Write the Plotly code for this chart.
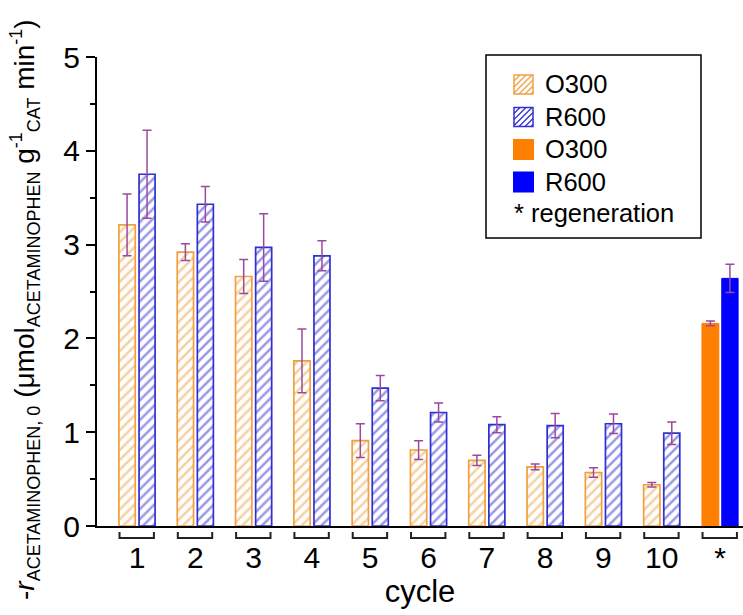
import plotly.graph_objects as go

# ---------------- data ----------------
cycles = [1, 2, 3, 4, 5, 6, 7, 8, 9, 10]
tick_positions = [1, 2, 3, 4, 5, 6, 7, 8, 9, 10, 11]
tick_labels = ["1", "2", "3", "4", "5", "6", "7", "8", "9", "10", "*"]

o300_cycle = [3.21, 2.92, 2.66, 1.76, 0.91, 0.81, 0.70, 0.63, 0.57, 0.44]
o300_cycle_err = [0.33, 0.09, 0.18, 0.34, 0.18, 0.10, 0.055, 0.03, 0.05, 0.025]
r600_cycle = [3.75, 3.43, 2.97, 2.88, 1.47, 1.21, 1.08, 1.07, 1.09, 0.99]
r600_cycle_err = [0.47, 0.19, 0.36, 0.16, 0.135, 0.10, 0.085, 0.13, 0.105, 0.12]

regen_x = [11]
o300_regen = [2.16]
o300_regen_err = [0.025]
r600_regen = [2.64]
r600_regen_err = [0.15]

legend_labels = ["O300", "R600", "O300", "R600", "* regeneration"]

# ---------------- styling ----------------
W, H = 743, 615
ML, MR, MT, MB = 97, 0, 57, 89
PW, PH = W - ML - MR, H - MT - MB
FONT = "Liberation Sans, Arial, sans-serif"

ORANGE_H = "#f0a040"
BLUE_H = "#3030d0"
ORANGE_S = "#ff8000"
BLUE_S = "#0000ff"
ERR_C = "#9a4a9c"


def px(x):
    return (x - ML) / PW


def py(y):
    return (H - MB - y) / PH


err_style = dict(type="data", color=ERR_C, thickness=1.5, width=4.5, visible=True)

fig = go.Figure()
fig.add_trace(go.Bar(
    x=cycles, y=o300_cycle, name="O300", width=0.28, offset=-0.31,
    marker=dict(color="white", line=dict(color=ORANGE_H, width=1.7),
                pattern=dict(shape="/", fgcolor=ORANGE_H, bgcolor="white", size=7, solidity=0.36)),
    error_y=dict(array=o300_cycle_err, **err_style),
))
fig.add_trace(go.Bar(
    x=cycles, y=r600_cycle, name="R600", width=0.275, offset=0.035,
    marker=dict(color="white", line=dict(color=BLUE_H, width=1.7),
                pattern=dict(shape="/", fgcolor=BLUE_H, bgcolor="white", size=7, solidity=0.36)),
    error_y=dict(array=r600_cycle_err, **err_style),
))
fig.add_trace(go.Bar(
    x=regen_x, y=o300_regen, name="O300 (regeneration)", width=0.29, offset=-0.31,
    marker=dict(color=ORANGE_S, line=dict(color=ORANGE_S, width=1)),
    error_y=dict(array=o300_regen_err, **err_style),
))
fig.add_trace(go.Bar(
    x=regen_x, y=r600_regen, name="R600 (regeneration)", width=0.28, offset=0.03,
    marker=dict(color=BLUE_S, line=dict(color=BLUE_S, width=1)),
    error_y=dict(array=r600_regen_err, **err_style),
))

shapes = []
# bracket marks under each group
for k in tick_positions:
    shapes.append(dict(
        type="path", xref="x", yref="paper",
        path=f"M {k-0.30},{py(532)} L {k-0.30},{py(538)} L {k+0.29},{py(538)} L {k+0.29},{py(532)}",
        line=dict(color="#222222", width=2),
    ))

# custom legend box
shapes.append(dict(type="rect", xref="paper", yref="paper",
                   x0=px(486), x1=px(701), y0=py(55), y1=py(238),
                   line=dict(color="black", width=1.5), fillcolor="white", layer="below"))


def hatched_swatch(x0, y0, x1, y1, color, step=6):
    out = [dict(type="rect", xref="paper", yref="paper",
                x0=px(x0), x1=px(x1), y0=py(y0), y1=py(y1),
                line=dict(color=color, width=1.5), fillcolor="white")]
    c = x0 + y0 + step
    while c < x1 + y1 - 1:
        xa = max(x0, c - y1)
        xb = min(x1, c - y0)
        out.append(dict(type="line", xref="paper", yref="paper",
                        x0=px(xa), y0=py(c - xa), x1=px(xb), y1=py(c - xb),
                        line=dict(color=color, width=1.2)))
        c += step
    return out


row_y = [84, 116.5, 149, 181.5, 213]
shapes += hatched_swatch(514, row_y[0] - 9, 533, row_y[0] + 10, ORANGE_H)
shapes += hatched_swatch(514, row_y[1] - 9, 533, row_y[1] + 10, BLUE_H)
shapes.append(dict(type="rect", xref="paper", yref="paper", x0=px(513), x1=px(534),
                   y0=py(row_y[2] - 10), y1=py(row_y[2] + 11), line=dict(width=0), fillcolor=ORANGE_S))
shapes.append(dict(type="rect", xref="paper", yref="paper", x0=px(513), x1=px(534),
                   y0=py(row_y[3] - 10), y1=py(row_y[3] + 11), line=dict(width=0), fillcolor=BLUE_S))

annotations = []
row_x = [543, 543, 543, 543, 512]
for lab, yy, xx in zip(legend_labels, row_y, row_x):
    annotations.append(dict(text=lab, xref="paper", yref="paper", x=px(xx), y=py(yy),
                            xanchor="left", yanchor="middle", showarrow=False,
                            font=dict(family=FONT, size=25.5, color="black")))

sub = '<span style="font-size:18px">{}</span>'
ytitle = ("-<i>r</i><sub>" + sub.format("ACETAMINOPHEN, 0") + "</sub> (μmol<sub>"
          + sub.format("ACETAMINOPHEN") + "</sub> g<sup>" + sub.format("-1") + "</sup><sub>"
          + sub.format("CAT") + "</sub> min<sup>" + sub.format("-1") + "</sup>)")
annotations.append(dict(text=ytitle, xref="paper", yref="paper", x=px(25), y=py(310),
                        xanchor="center", yanchor="middle", textangle=-90, showarrow=False,
                        font=dict(family=FONT, size=28, color="black")))

fig.update_layout(
    width=W, height=H,
    margin=dict(l=ML, r=MR, t=MT, b=MB, pad=0),
    paper_bgcolor="white", plot_bgcolor="white",
    barmode="overlay", showlegend=False,
    font=dict(family=FONT, size=29, color="black"),
    shapes=shapes, annotations=annotations,
    xaxis=dict(
        range=[0.314, 11.394], tickmode="array", tickvals=tick_positions, ticktext=tick_labels,
        ticks="outside", ticklen=4, tickcolor="rgba(0,0,0,0)",
        showline=True, linecolor="black", linewidth=2, showgrid=False, zeroline=False,
        tickfont=dict(family=FONT, size=30, color="black"),
        title=dict(text="cycle", font=dict(family=FONT, size=31, color="black"), standoff=2),
    ),
    yaxis=dict(
        range=[0, 5], tickmode="linear", tick0=0, dtick=1,
        ticks="outside", ticklen=9, tickwidth=2, tickcolor="black",
        minor=dict(ticks="outside", ticklen=5, tickwidth=2, tickcolor="black", dtick=0.5, tick0=0),
        showline=True, linecolor="black", linewidth=2, showgrid=False, zeroline=False,
        tickfont=dict(family=FONT, size=30, color="black"),
    ),
)

fig.write_html("out.html")
